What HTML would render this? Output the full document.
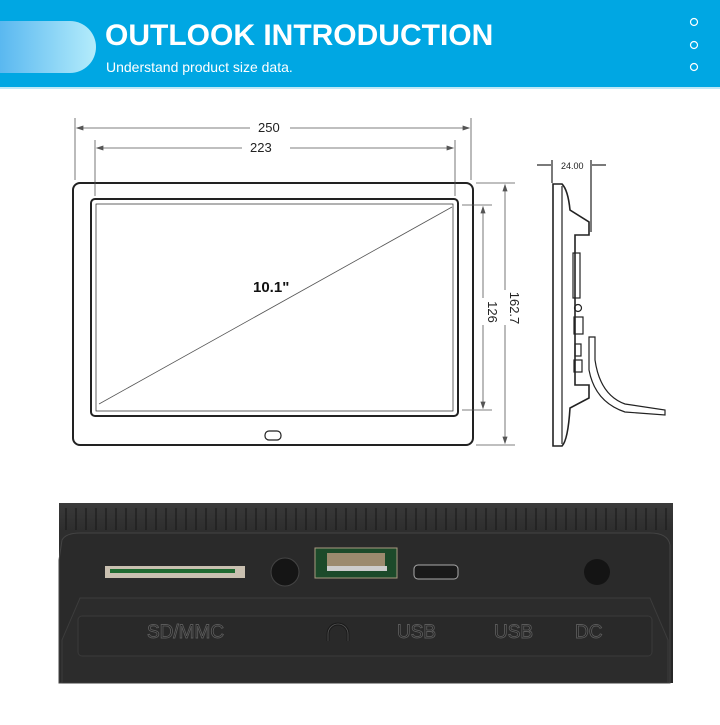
<!DOCTYPE html>
<html><head><meta charset="utf-8"><style>
body{margin:0;width:720px;height:720px;background:#fff;overflow:hidden;font-family:"Liberation Sans",sans-serif}
</style></head><body>
<svg width="720" height="720" viewBox="0 0 720 720" xmlns="http://www.w3.org/2000/svg" font-family="Liberation Sans, sans-serif">
<defs>
<linearGradient id="pill" x1="0" x2="1"><stop offset="0" stop-color="#5ab8f0"/><stop offset="1" stop-color="#b4ecfb"/></linearGradient>
<linearGradient id="ph" x1="0" y1="0" x2="0" y2="1"><stop offset="0" stop-color="#3a3a3a"/><stop offset="0.15" stop-color="#2e2e2e"/><stop offset="1" stop-color="#262626"/></linearGradient>
</defs>
<rect x="0" y="0" width="720" height="87" fill="#00a7e3"/>
<rect x="0" y="87" width="720" height="2" fill="#bfe8f7"/>
<path d="M0 21 H70 A26 26 0 0 1 70 73 H0 Z" fill="url(#pill)"/>
<text x="105" y="45" font-size="30" font-weight="bold" fill="#fff">OUTLOOK INTRODUCTION</text>
<text x="106" y="72" font-size="14" fill="#fff">Understand product size data.</text>
<g fill="none" stroke="#fff" stroke-width="1.2"><circle cx="694" cy="22" r="3.5"/><circle cx="694" cy="45" r="3.5"/><circle cx="694" cy="67" r="3.5"/></g>

<g stroke="#222" fill="none">
<rect x="73" y="183" width="400" height="262" rx="7" stroke-width="2"/>
<rect x="91" y="199" width="367" height="217" rx="4" stroke-width="2"/>
<rect x="96" y="204" width="357" height="207" stroke-width="0.7"/>
<rect x="265" y="431" width="16" height="9" rx="4" stroke-width="1.2"/>
</g>
<g stroke="#555" stroke-width="0.8" fill="#555">
<line x1="75" y1="118" x2="75" y2="180"/><line x1="471" y1="118" x2="471" y2="180"/>
<line x1="95" y1="140" x2="95" y2="196"/><line x1="455" y1="140" x2="455" y2="196"/>
<line x1="77" y1="128" x2="250" y2="128"/><line x1="290" y1="128" x2="469" y2="128"/>
<line x1="97" y1="148" x2="242" y2="148"/><line x1="290" y1="148" x2="453" y2="148"/>
<line x1="476" y1="183" x2="515" y2="183"/><line x1="476" y1="445" x2="515" y2="445"/>
<line x1="462" y1="205" x2="492" y2="205"/><line x1="462" y1="410" x2="492" y2="410"/>
<line x1="505" y1="185" x2="505" y2="290"/><line x1="505" y1="325" x2="505" y2="443"/>
<line x1="483" y1="207" x2="483" y2="298"/><line x1="483" y1="325" x2="483" y2="408"/>
<line x1="99" y1="404" x2="452" y2="207"/>
<path d="M77 128 l6 -2 v4 z M469 128 l-6 -2 v4 z M97 148 l6 -2 v4 z M453 148 l-6 -2 v4 z M505 185 l-2 6 h4 z M505 443 l-2 -6 h4 z M483 207 l-2 6 h4 z M483 408 l-2 -6 h4 z"/>
</g>
<text x="258" y="132" font-size="13" fill="#222">250</text>
<text x="250" y="152" font-size="13" fill="#222">223</text>
<text x="253" y="292" font-size="15" font-weight="bold" fill="#111">10.1"</text>
<text transform="translate(510,308) rotate(90)" font-size="13" fill="#222" text-anchor="middle">162.7</text>
<text transform="translate(488,312) rotate(90)" font-size="13" fill="#222" text-anchor="middle">126</text>

<g stroke="#222" fill="none" stroke-width="1.2">
<line x1="537" y1="165" x2="551" y2="165"/><line x1="592" y1="165" x2="606" y2="165"/>
<line x1="552" y1="160" x2="552" y2="183"/><line x1="591" y1="160" x2="591" y2="232"/>
<path d="M553 184 H562 Q568 190 570 210 L589 222 V235 H575 V385 H589 V398 L570 408 Q568 440 562 446 H553 Z" stroke-width="1.6"/>
<line x1="562" y1="186" x2="562" y2="444"/>
<rect x="573" y="253" width="7" height="45"/>
<circle cx="578" cy="308" r="3.5"/>
<rect x="574" y="317" width="9" height="17"/>
<rect x="575" y="344" width="6" height="12"/>
<rect x="574" y="360" width="8" height="12"/>
<path d="M589 337 H595 V360 Q600 395 625 404 L665 410 V415 L625 412 Q595 402 589 370 Z"/>
</g>
<text x="561" y="169" font-size="9" fill="#222">24.00</text>

<rect x="59" y="503" width="614" height="180" fill="url(#ph)"/>
<g stroke="#1c1c1c" stroke-width="1.2">
<path d="M66 508 V530 M76 508 V530 M86 508 V530 M96 508 V530 M106 508 V530 M116 508 V530 M126 508 V530 M136 508 V530 M146 508 V530 M156 508 V530 M166 508 V530 M176 508 V530 M186 508 V530 M196 508 V530 M206 508 V530 M216 508 V530 M226 508 V530 M236 508 V530 M246 508 V530 M256 508 V530 M266 508 V530 M276 508 V530 M286 508 V530 M296 508 V530 M306 508 V530 M316 508 V530 M326 508 V530 M336 508 V530 M346 508 V530 M356 508 V530 M366 508 V530 M376 508 V530 M386 508 V530 M396 508 V530 M406 508 V530 M416 508 V530 M426 508 V530 M436 508 V530 M446 508 V530 M456 508 V530 M466 508 V530 M476 508 V530 M486 508 V530 M496 508 V530 M506 508 V530 M516 508 V530 M526 508 V530 M536 508 V530 M546 508 V530 M556 508 V530 M566 508 V530 M576 508 V530 M586 508 V530 M596 508 V530 M606 508 V530 M616 508 V530 M626 508 V530 M636 508 V530 M646 508 V530 M656 508 V530 M666 508 V530"/>
</g>
<path d="M62 540 Q66 533 80 533 H650 Q668 533 670 545 V683 H59 V560 Z" fill="#2a2a2a" stroke="#444"/>
<path d="M80 598 H650 L668 640 V683 H62 V640 Z" fill="#2c2c2c" stroke="#3c3c3c"/>
<rect x="78" y="616" width="574" height="40" rx="4" fill="#292929" stroke="#3a3a3a"/>
<rect x="105" y="566" width="140" height="12" fill="#c9c0b0"/>
<rect x="110" y="569" width="125" height="4" fill="#1f6a30"/>
<circle cx="285" cy="572" r="14" fill="#151515" stroke="#444"/>
<rect x="315" y="548" width="82" height="30" fill="#1c4a2a" stroke="#a99a80"/>
<rect x="327" y="553" width="58" height="18" fill="#9b8a6e"/>
<rect x="327" y="566" width="60" height="5" fill="#ccc"/>
<rect x="414" y="565" width="44" height="14" rx="4" fill="#1a1a1a" stroke="#aaa"/>
<circle cx="597" cy="572" r="13" fill="#141414"/>
<g fill="#1e1e1e" stroke="#5a5a5a" stroke-width="0.9" font-size="19">
<text x="147" y="638">SD/MMC</text>
<text x="397" y="638">USB</text>
<text x="494" y="638">USB</text>
<text x="575" y="638">DC</text>
</g>
<path d="M328 641 V634 A10 10 0 0 1 348 634 V641" fill="none" stroke="#1a1a1a" stroke-width="3"/>
<path d="M328 641 V634 A10 10 0 0 1 348 634 V641" fill="none" stroke="#555" stroke-width="0.8"/>
</svg>
</body></html>
